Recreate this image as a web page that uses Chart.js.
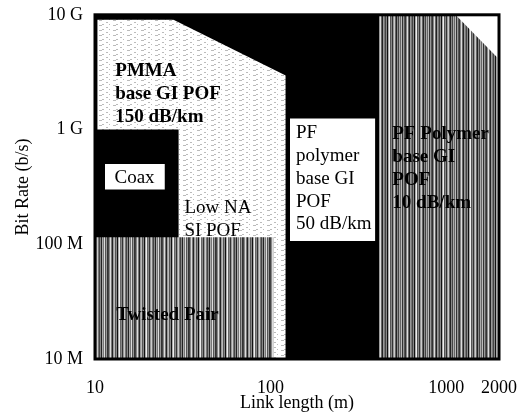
<!DOCTYPE html>
<html>
<head>
<meta charset="utf-8">
<script src="https://cdn.jsdelivr.net/npm/chart.js@4.4.0/dist/chart.umd.min.js"></script>
<style>
  html, body { margin: 0; padding: 0; background: #fff; }
  #wrap { width: 528px; height: 414px; }
</style>
</head>
<body>
<div id="wrap"><canvas id="chart"></canvas></div>
<script>
// axes: link length (m) on x, bit rate (b/s) on y, both log
const xTicks = [10, 100, 1000, 2000];
const yTicks = [1e7, 1e8, 1e9, 1e10];
const yTickLabels = ['10 M', '100 M', '1 G', '10 G'];

// region outlines, filled down to the bottom of the plot
const blackX = [10, 415];
const blackY = [1e10, 1e10];
const pfHatchX = [415, 1130, 2000];
const pfHatchY = [1e10, 1e10, 4.1e9];
const pmmaX = [10.3, 28, 122];
const pmmaY = [9.05e9, 9.05e9, 2.96e9];
const coaxX = [10, 30];
const coaxY = [1e9, 1e9];
const twistedX = [10, 104];
const twistedY = [1.15e8, 1.15e8];

// white label boxes (top / bottom edge)
const coaxBoxX = [11.4, 25];
const coaxBoxTop = [5.0e8, 5.0e8];
const coaxBoxBottom = [3.0e8, 3.0e8];
const pfBoxX = [129, 395];
const pfBoxTop = [1.25e9, 1.25e9];
const pfBoxBottom = [1.07e8, 1.07e8];

// region names, anchored at the first line (x, y in data units)
const notes = [
  { x: 13.05, y: 3.2e9, lines: ['PMMA', 'base GI POF', '150 dB/km'], bold: true },
  { x: 16.8, y: 3.78e8, lines: ['Coax'], center: true },
  { x: 32.3, y: 2.08e8, lines: ['Low NA', 'SI POF'] },
  { x: 139.5, y: 9.29e8, lines: ['PF', 'polymer', 'base GI', 'POF', '50 dB/km'] },
  { x: 494, y: 9.1e8, lines: ['PF Polymer', 'base GI', 'POF', '10 dB/km'], bold: true },
  { x: 13.2, y: 2.4e7, lines: ['Twisted Pair'], bold: true }
];

const serif = "'Liberation Serif', 'DejaVu Serif', serif";

function pts(xs, ys) {
  return xs.map((x, i) => ({ x: x, y: ys[i] }));
}

function stripes(cols) {
  const c = document.createElement('canvas');
  c.width = cols.length; c.height = 4;
  const g = c.getContext('2d');
  cols.forEach((col, i) => { g.fillStyle = col; g.fillRect(i, 0, 1, 4); });
  return g.createPattern(c, 'repeat');
}

function dots() {
  const c = document.createElement('canvas');
  c.width = 14; c.height = 5;
  const g = c.getContext('2d');
  g.fillStyle = '#fff'; g.fillRect(0, 0, 14, 5);
  g.fillStyle = '#bbb';
  g.fillRect(1, 0, 3, 1);
  g.fillRect(8, 2, 2, 1);
  g.fillRect(4, 4, 2, 1);
  g.fillRect(11, 4, 1, 1);
  return g.createPattern(c, 'repeat');
}

const twistedFill = stripes(['#444', '#888', '#ddd', '#777', '#222', '#999', '#bbb', '#555',
  '#888', '#111', '#aaa', '#eee', '#666', '#888', '#333', '#999', '#ccc', '#777', '#444', '#888',
  '#222', '#aaa', '#777', '#ddd', '#555', '#999', '#333']);
const pfFill = stripes(['#333', '#888', '#ddd', '#666', '#222', '#999', '#777', '#444',
  '#888', '#111', '#aaa', '#eee', '#555', '#888', '#333', '#999', '#ccc', '#666', '#222', '#888',
  '#444', '#aaa', '#666', '#bbb', '#333', '#999', '#555']);
const pmmaFill = dots();

function area(xs, ys, color, fill) {
  return {
    data: pts(xs, ys),
    backgroundColor: color,
    borderColor: 'transparent',
    borderWidth: 0,
    pointRadius: 0,
    fill: fill
  };
}

const datasets = [
  area(blackX, blackY, '#000', 'start'),
  area(pfHatchX, pfHatchY, pfFill, 'start'),
  area(pmmaX, pmmaY, pmmaFill, 'start'),
  area(coaxX, coaxY, '#000', 'start'),
  area(twistedX, twistedY, twistedFill, 'start'),
  area(coaxBoxX, coaxBoxTop, '#fff', '+1'),
  area(coaxBoxX, coaxBoxBottom, 'transparent', false),
  area(pfBoxX, pfBoxTop, '#fff', '+1'),
  area(pfBoxX, pfBoxBottom, 'transparent', false)
];
// first listed is painted first
datasets.forEach((d, i) => { d.order = datasets.length - i; });

const notesPlugin = {
  id: 'notes',
  afterDatasetsDraw(chart) {
    const ctx = chart.ctx;
    const xs = chart.scales.x, ys = chart.scales.y;
    ctx.save();
    ctx.fillStyle = '#000';
    ctx.textBaseline = 'middle';
    notes.forEach(n => {
      ctx.font = (n.bold ? 'bold ' : '') + '19px ' + serif;
      ctx.textAlign = n.center ? 'center' : 'left';
      const px = xs.getPixelForValue(n.x);
      const py = ys.getPixelForValue(n.y);
      n.lines.forEach((t, i) => ctx.fillText(t, px, py + i * 22.8));
    });
    const a = chart.chartArea;
    ctx.strokeStyle = '#000';
    ctx.lineWidth = 3;
    ctx.strokeRect(a.left, a.top, a.right - a.left, a.bottom - a.top);
    ctx.restore();
  }
};

new Chart(document.getElementById('chart'), {
  type: 'line',
  data: { datasets: datasets },
  options: {
    responsive: true,
    maintainAspectRatio: false,
    animation: false,
    layout: { padding: { top: 13, right: 29, left: 0, bottom: 0 } },
    plugins: {
      legend: { display: false },
      tooltip: { enabled: false }
    },
    scales: {
      x: {
        type: 'logarithmic',
        min: 10,
        max: 2000,
        afterBuildTicks: s => { s.ticks = xTicks.map(v => ({ value: v })); },
        afterFit: s => { s.height = 55; },
        ticks: {
          autoSkip: false,
          maxRotation: 0,
          padding: 10,
          color: '#000',
          font: { family: serif, size: 18 },
          callback: v => String(v)
        },
        grid: { display: false },
        border: { display: false },
        title: {
          display: true,
          text: 'Link length (m)',
          color: '#000',
          font: { family: serif, size: 18 },
          padding: { top: 0, bottom: 0 }
        }
      },
      y: {
        type: 'logarithmic',
        min: 1e7,
        max: 1e10,
        afterBuildTicks: s => { s.ticks = yTicks.map(v => ({ value: v })); },
        afterFit: s => { s.width = 95; },
        ticks: {
          autoSkip: false,
          padding: 4,
          color: '#000',
          font: { family: serif, size: 18 },
          callback: v => yTickLabels[yTicks.indexOf(v)]
        },
        grid: { display: false },
        border: { display: false },
        title: {
          display: true,
          text: 'Bit Rate (b/s)',
          color: '#000',
          font: { family: serif, size: 18 },
          padding: { top: 12, bottom: 0 }
        }
      }
    }
  },
  plugins: [notesPlugin]
});
</script>
</body>
</html>
